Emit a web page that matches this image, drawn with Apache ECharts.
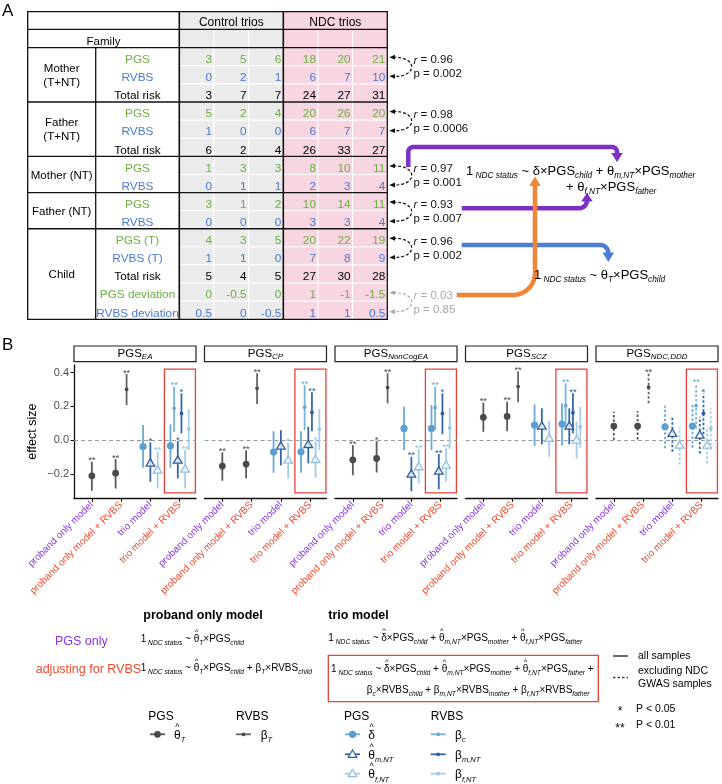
<!DOCTYPE html>
<html><head><meta charset="utf-8">
<script src="https://cdn.jsdelivr.net/npm/echarts@6/dist/echarts.min.js"></script>
<style>html,body{margin:0;padding:0;background:#fff}#c{width:722px;height:784px}</style>
</head><body><div id="c"></div>
<script>
// ================= DATA: Panel A table =================
const trioNames = ['No. 1','No. 2','No. 3','No. 4','No. 5','No. 6'];
const mother_PGS   = [3,5,6,18,20,21];
const mother_RVBS  = [0,2,1,6,7,10];
const mother_Total = [3,7,7,24,27,31];
const father_PGS   = [5,2,4,20,26,20];
const father_RVBS  = [1,0,0,6,7,7];
const father_Total = [6,2,4,26,33,27];
const motherNT_PGS  = [1,3,3,8,10,11];
const motherNT_RVBS = [0,1,1,2,3,4];
const fatherNT_PGS  = [3,1,2,10,14,11];
const fatherNT_RVBS = [0,0,0,3,3,4];
const child_PGS     = [4,3,5,20,22,19];
const child_RVBS    = [1,1,0,7,8,9];
const child_Total   = [5,4,5,27,30,28];
const child_PGSdev  = [0,-0.5,0,1,-1,-1.5];
const child_RVBSdev = [0.5,0,-0.5,1,1,0.5];
const rowLabels = ['PGS','RVBS','Total risk','PGS','RVBS','Total risk','PGS','RVBS','PGS','RVBS','PGS (T)','RVBS (T)','Total risk','PGS deviation','RVBS deviation'];
const rowKinds  = ['pgs','rvbs','tot','pgs','rvbs','tot','pgs','rvbs','pgs','rvbs','pgs','rvbs','tot','pgs','rvbs'];
const blockNames = ['Mother\n(T+NT)','Father\n(T+NT)','Mother (NT)','Father (NT)','Child'];
const blockSpans = [[0,2],[3,5],[6,7],[8,9],[10,14]];
const corrR = ['0.96','0.98','0.97','0.93','0.96','0.03'];
const corrP = ['0.002','0.0006','0.001','0.007','0.002','0.85'];
const corrRows = [[0,1],[3,4],[6,7],[8,9],[10,11],[13,14]];

// ================= DATA: Panel B =================
const modelCats = ['proband only model','proband only model + RVBS','trio model','trio model + RVBS'];
const facetNames = ['EA','CP','NonCogEA','SCZ','NDC,DDD'];
const catTerms = [['θT'],['θT','βT'],['δ','θm','θf'],['δ','βc','θm','βm','θf','βf']];
// [category, term, estimate, lower, upper, significance]
const est_EA = [
 [0,'θT',-0.212,-0.301,-0.129,'**'],[1,'θT',-0.196,-0.287,-0.113,'**'],[1,'βT',0.301,0.208,0.392,'**'],
 [2,'δ',-0.038,-0.164,0.089,''],[2,'θm',-0.137,-0.247,-0.014,'*'],[2,'θf',-0.178,-0.287,-0.069,'**'],
 [3,'δ',-0.034,-0.164,0.093,''],[3,'βc',0.188,0.049,0.317,'**'],[3,'θm',-0.119,-0.227,-0.006,'*'],
 [3,'βm',0.158,0.040,0.277,'*'],[3,'θf',-0.172,-0.287,-0.059,'**'],[3,'βf',0.065,-0.059,0.184,'']];
const est_CP = [
 [0,'θT',-0.154,-0.241,-0.073,'**'],[1,'θT',-0.142,-0.227,-0.061,'**'],[1,'βT',0.307,0.214,0.396,'**'],
 [2,'δ',-0.071,-0.194,0.053,''],[2,'θm',-0.036,-0.150,0.059,''],[2,'θf',-0.119,-0.227,-0.015,'*'],
 [3,'δ',-0.069,-0.194,0.053,''],[3,'βc',0.194,0.059,0.326,'**'],[3,'θm',-0.026,-0.138,0.079,''],
 [3,'βm',0.164,0.053,0.283,'**'],[3,'θf',-0.115,-0.224,-0.005,'*'],[3,'βf',0.065,-0.059,0.184,'']];
const est_NonCogEA = [
 [0,'θT',-0.117,-0.208,-0.030,'**'],[1,'θT',-0.109,-0.192,-0.006,'*'],[1,'βT',0.311,0.218,0.396,'**'],
 [2,'δ',0.069,-0.059,0.198,''],[2,'θm',-0.202,-0.303,-0.099,'**'],[2,'θf',-0.158,-0.257,-0.053,'**'],
 [3,'δ',0.069,-0.059,0.208,''],[3,'βc',0.192,0.059,0.317,'**'],[3,'θm',-0.184,-0.291,-0.083,'**'],
 [3,'βm',0.158,0.034,0.277,'*'],[3,'θf',-0.148,-0.247,-0.049,'**'],[3,'βf',0.073,-0.053,0.192,'']];
const est_SCZ = [
 [0,'θT',0.135,0.049,0.222,'**'],[1,'θT',0.140,0.053,0.227,'**'],[1,'βT',0.317,0.224,0.406,'**'],
 [2,'δ',0.089,-0.034,0.212,''],[2,'θm',0.083,-0.026,0.188,''],[2,'θf',0.010,-0.099,0.113,''],
 [3,'δ',0.095,-0.030,0.218,''],[3,'βc',0.204,0.065,0.336,'**'],[3,'θm',0.083,-0.026,0.188,''],
 [3,'βm',0.162,0.040,0.277,'**'],[3,'θf',0.000,-0.109,0.109,''],[3,'βf',0.079,-0.045,0.198,'']];
const est_NDC = [
 [0,'θT',0.083,0.000,0.168,''],[1,'θT',0.083,0.004,0.172,''],[1,'βT',0.313,0.218,0.396,'**'],
 [2,'δ',0.079,-0.049,0.204,''],[2,'θm',0.040,-0.069,0.138,''],[2,'θf',-0.030,-0.144,0.079,''],
 [3,'δ',0.083,-0.045,0.208,''],[3,'βc',0.204,0.069,0.336,'**'],[3,'θm',0.030,-0.079,0.138,''],
 [3,'βm',0.158,0.034,0.277,'*'],[3,'θf',-0.030,-0.138,0.079,''],[3,'βf',0.069,-0.059,0.188,'']];
const facetData = [est_EA, est_CP, est_NonCogEA, est_SCZ, est_NDC];
const facetDashed = [false,false,false,false,true];
const yTicks = [-0.2, 0, 0.2, 0.4];

// ================= STYLE / LAYOUT =================
const FONT = '"Liberation Sans", Arial, Helvetica, "DejaVu Sans", sans-serif';
const GREEN = '#6db043', BLUE = '#4a79d0', GRAYC = '#eaebea', PINK = '#f7d5e1';
const PURPLE = '#8a35e6', RED = '#ee4a2f';
const TERMS = ['θT','βT','δ','θm','θf','βc','βm','βf'];
const TS = {
 'θT':{c:'#4a4a4a', l:'#595959', sym:'circle', r:3.4},
 'βT':{c:'#4a4a4a', l:'#666666', sym:'dot', r:1.9},
 'δ': {c:'#5b9fd3', l:'#6aa9d8', sym:'circle', r:3.6},
 'θm':{c:'#2d5c9c', l:'#3766a8', sym:'tri', r:4.3},
 'θf':{c:'#8fc0e2', l:'#a4cce8', sym:'tri', r:4.3},
 'βc':{c:'#66a8d8', l:'#78b3de', sym:'dot', r:1.9},
 'βm':{c:'#2d5c9c', l:'#3766a8', sym:'dot', r:1.9},
 'βf':{c:'#98c8e7', l:'#a8d0ea', sym:'dot', r:1.9}
};
const TL=179.3, TT=47.7, TW=208, TH=271.6, TR=TL+TW, TB=TT+TH, RH=TH/15, CW=TW/6;
const T0X=27.7, T0Y=11.7, T1X=95.7, HMID=29.3;
const FAC_LEFT=[74,204.5,335,465.5,596], FW=122, FT=365, FH=133.3;

// ================= GRAPHIC helpers =================
const G = [];
function rect(x,y,w,h,style,z){G.push({type:'rect',z:z||100,shape:{x,y,width:w,height:h},style});}
function line(x1,y1,x2,y2,stroke,lw,dash,z){G.push({type:'line',z:z||100,shape:{x1,y1,x2,y2},style:{stroke,lineWidth:lw||1,lineDash:dash||null}});}
function txt(x,y,text,size,opt){opt=opt||{};G.push({type:'text',z:opt.z||101,x,y,style:Object.assign({text,fill:opt.fill||'#000',fontSize:size,fontFamily:FONT,fontWeight:opt.weight||'normal',fontStyle:opt.italic?'italic':'normal',align:opt.align||'left',verticalAlign:opt.va||'middle'},opt.style||{})});}
function rich(x,y,tokens,styles,opt){opt=opt||{};G.push({type:'text',z:101,x,y,style:{text:tokens.map(t=>'{'+t[0]+'|'+t[1]+'}').join(''),align:opt.align||'left',verticalAlign:'middle',rich:styles}});}
function poly(points,stroke,lw,z){G.push({type:'polyline',z:z||90,shape:{points},style:{stroke,lineWidth:lw,fill:null,lineJoin:'round'}});}
function tri(points,fill,z){G.push({type:'polygon',z:z||90,shape:{points},style:{fill}});}
function arcPts(cx,cy,r,a0,a1,n){const p=[];n=n||10;for(let i=0;i<=n;i++){const a=a0+(a1-a0)*i/n;p.push([cx+r*Math.cos(a),cy+r*Math.sin(a)]);}return p;}
function mkRich(mainSize, subSize, mainLH, subLH, color){
  return {
    m:{fontSize:mainSize,fontFamily:FONT,fill:color||'#000',lineHeight:mainLH,verticalAlign:'middle'},
    s:{fontSize:subSize,fontFamily:FONT,fontStyle:'italic',fill:color||'#000',lineHeight:subLH,verticalAlign:'bottom'}
  };
}
// manual formula layout (tokens: m = main, s = subscript, h = hatted main char)
const mctx=document.createElement('canvas').getContext('2d');
function tw(t,size,italic){mctx.font=(italic?'italic ':'')+size+'px '+FONT;return mctx.measureText(t).width;}
function formula(x,y,tokens,ms,ss,subDy,color){
  let cx=x; color=color||'#000';
  tokens.forEach(t=>{
    const k=t[0], s=t[1];
    if(k==='s'){txt(cx,y+subDy,s,ss,{italic:true,fill:color});cx+=tw(s,ss,true);}
    else if(k==='h'){txt(cx,y,s,ms,{fill:color});const w=tw(s,ms);txt(cx+w/2,y-ms*0.66,'^',ms*0.75,{align:'center',fill:color});cx+=w;}
    else{txt(cx,y,s,ms,{fill:color});cx+=tw(s,ms);}
  });
  return cx;
}

// ---------- Panel labels ----------
txt(2,11,'A',17);
txt(2,345,'B',17);

// ---------- Table header ----------
rect(TL,T0Y,3*CW,TT-T0Y,{fill:GRAYC,stroke:null},20);
rect(TL+3*CW,T0Y,3*CW,TT-T0Y,{fill:PINK,stroke:null},20);
[1,2,4,5].forEach(k=>line(TL+k*CW,HMID,TL+k*CW,TT,'#fff',1,null,21));
txt(TL+1.5*CW,T0Y+(HMID-T0Y)/2+2.6,'Control trios',12,{align:'center'});
txt(TL+4.5*CW,T0Y+(HMID-T0Y)/2+2.6,'NDC trios',12,{align:'center'});
txt((T0X+TL)/2,(HMID+TT)/2+3,'Family',11.5,{align:'center'});
// frame
G.push({type:'rect',z:110,shape:{x:T0X,y:T0Y,width:TR-T0X,height:TB-T0Y},style:{fill:null,stroke:'#111',lineWidth:1.3}});
line(T0X,HMID,TR,HMID,'#111',1.3,null,110);
line(T0X,TT,TR,TT,'#111',1.3,null,110);
[3,6,8,10].forEach(k=>line(T0X,TT+k*RH,TR,TT+k*RH,'#111',1.3,null,110));
line(T1X,TT,T1X,TB,'#111',1.3,null,110);
line(TL,T0Y,TL,TB,'#111',1.6,null,110);
line(TL+3*CW,T0Y,TL+3*CW,TB,'#111',1.6,null,110);
// block names
blockNames.forEach((n,i)=>{
  const y=TT+((blockSpans[i][0]+blockSpans[i][1]+1)/2)*RH+1;
  txt((T0X+T1X)/2,y,n,11.5,{align:'center',style:{lineHeight:14}});
});
// correlation annotations
corrRows.forEach((pr,i)=>{
  const y1=TT+(pr[0]+0.5)*RH+0.5, y2=TT+(pr[1]+0.5)*RH+1.5;
  const col = i===5 ? '#a9a9a9' : '#111';
  G.push({type:'bezierCurve',z:100,shape:{x1:393,y1:y1,x2:393,y2:y2,cpx1:418,cpy1:y1-1,cpx2:418,cpy2:y2+1},style:{stroke:col,lineWidth:1.2,lineDash:[3,2],fill:null}});
  tri([[389.3,y1],[395,y1-2.4],[395,y1+2.4]],col,100);
  tri([[389.3,y2],[395,y2-2.4],[395,y2+2.4]],col,100);
  const mid=(y1+y2)/2;
  rich(413.5,mid-6.5,[['i','r'],['n',' = '+corrR[i]]],{i:{fontSize:11.5,fontFamily:FONT,fontStyle:'italic',fill:col},n:{fontSize:11.5,fontFamily:FONT,fill:col}});
  rich(413.5,mid+7.5,[['n','p = '+corrP[i]]],{n:{fontSize:11.5,fontFamily:FONT,fill:col}});
});

// ---------- Thick arrows ----------
const PURA='#7c30c4', BLUA='#4b7fd6', ORA='#ef8537', AW=4.5;
poly([[408.3,167]].concat(arcPts(413.3,152,5,Math.PI,1.5*Math.PI)).concat(arcPts(612,152,5,-0.5*Math.PI,0)).concat([[617,154]]),PURA,AW,90);
tri([[611.2,153],[622.8,153],[617,162]],PURA,90);
poly([[461.7,208.3]].concat(arcPts(579,200.3,8,0.5*Math.PI,0)),PURA,AW,90);
tri([[581.2,201.5],[592.8,201.5],[587,193]],PURA,90);
poly([[461.7,245]].concat(arcPts(600.3,253,8,-0.5*Math.PI,0)),BLUA,AW,90);
tri([[602.5,252.5],[614.1,252.5],[608.3,262]],BLUA,90);
poly([[456.7,295]].concat(arcPts(513,273,22,0.5*Math.PI,0,16)).concat([[535,185]]),ORA,AW,92);
tri([[529.2,186],[540.8,186],[535,176.5]],ORA,92);

// ---------- Formulas panel A ----------
formula(466,171,[['m','1'],['s',' NDC status'],['m',' ~ δ×PGS'],['s','child'],['m',' + θ'],['s','m,NT'],['m','×PGS'],['s','mother']],13,8.3,5);
formula(566,187,[['m','+ θ'],['s','f,NT'],['m','×PGS'],['s','father']],13,8.3,5);
formula(534,275,[['m','1'],['s',' NDC status'],['m',' ~ θ'],['s','T'],['m','×PGS'],['s','child']],13,8.3,5);

// ---------- Facet strips ----------
facetNames.forEach((f,i)=>{
  G.push({type:'rect',z:100,shape:{x:FAC_LEFT[i],y:346,width:FW,height:15.7},style:{fill:'#fff',stroke:'#222',lineWidth:1.2}});
  rich(FAC_LEFT[i]+FW/2,353.5,[['m','PGS'],['s',f]],mkRich(11.5,8,14,5),{align:'center'});
});

// ---------- Bottom legend ----------
const MS=10, SS=6.7, SD=4.3;
txt(143.3,616,'proband only model',12.5,{weight:'bold'});
txt(328.3,616,'trio model',12.5,{weight:'bold'});
txt(55,642,'PGS only',12.5,{fill:PURPLE});
txt(35.7,669.3,'adjusting for RVBS',12.5,{fill:RED});
formula(140.7,639,[['m','1'],['s',' NDC status'],['m',' ~ '],['h','θ'],['s','T'],['m','×PGS'],['s','child']],MS,SS,SD);
formula(140.7,668,[['m','1'],['s',' NDC status'],['m',' ~ '],['h','θ'],['s','T'],['m','×PGS'],['s','child'],['m',' + β'],['s','T'],['m','×RVBS'],['s','child']],MS,SS,SD);
const trioTok=[['m','1'],['s',' NDC status'],['m',' ~ '],['h','δ'],['m','×PGS'],['s','child'],['m',' + '],['h','θ'],['s','m,NT'],['m','×PGS'],['s','mother'],['m',' + '],['h','θ'],['s','f,NT'],['m','×PGS'],['s','father']];
formula(328.3,638,trioTok,MS,SS,SD);
formula(331,669,trioTok.concat([['m',' +']]),MS,SS,SD);
formula(366.7,690,[['m','β'],['s','c'],['m','×RVBS'],['s','child'],['m',' + β'],['s','m,NT'],['m','×RVBS'],['s','mother'],['m',' + β'],['s','f,NT'],['m','×RVBS'],['s','father']],MS,SS,SD);
G.push({type:'rect',z:100,shape:{x:328.3,y:655.3,width:270,height:46.4},style:{fill:null,stroke:'#e8413a',lineWidth:1.3}});
// legend headers
txt(148.3,716.7,'PGS',12); txt(236,716.7,'RVBS',12); txt(344,716.7,'PGS',12); txt(430.7,716.7,'RVBS',12);
function glyph(x,y,term,dashed){
  const s=TS[term];
  line(x,y,x+15,y,s.l,1.8,dashed?[2.5,2]:null,100);
  const cx=x+7.5;
  if(s.sym==='circle'||s.sym==='dot') G.push({type:'circle',z:101,shape:{cx,cy:y,r:s.r},style:{fill:s.c}});
  else G.push({type:'polygon',z:102,shape:{points:[[cx,y-s.r],[cx-s.r,y+s.r*0.7],[cx+s.r,y+s.r*0.7]]},style:{fill:'#fff',stroke:s.c,lineWidth:1.2}});
}
const legendItems = [
  [150,734.3,'θT','θ','T',174,true],[236,734.3,'βT','β','T',260.7,false],
  [345,734.3,'δ','δ','',368.3,true],[345,754.3,'θm','θ','m,NT',368.3,true],[345,773.7,'θf','θ','f,NT',368.3,true],
  [430.7,734.3,'βc','β','c',455,false],[430.7,754.3,'βm','β','m,NT',455,false],[430.7,773.7,'βf','β','f,NT',455,false]
];
legendItems.forEach(it=>{
  glyph(it[0],it[1],it[2]);
  const toks=[[it[6]?'h':'m',it[3]]]; if(it[4]) toks.push(['s',it[4]]);
  formula(it[5],it[1]+1,toks,12,7.5,5);
});
line(613,656,628,656,'#444',1.6,null,100); txt(638,656,'all samples',10.5);
line(613,677.5,628,677.5,'#444',1.6,[2.5,2],100); txt(638,671.3,'excluding NDC',10.5); txt(638,683.8,'GWAS samples',10.5);
txt(620,712,'*',12,{align:'center'}); txt(636,709,'P < 0.05',10.5);
txt(620,728.5,'**',12,{align:'center'}); txt(636,725.5,'P < 0.01',10.5);

// ================= SERIES builders =================
const tableCells = [];
[mother_PGS,mother_RVBS,mother_Total,father_PGS,father_RVBS,father_Total,motherNT_PGS,motherNT_RVBS,fatherNT_PGS,fatherNT_RVBS,child_PGS,child_RVBS,child_Total,child_PGSdev,child_RVBSdev]
  .forEach((row,r)=>row.forEach((v,c)=>tableCells.push([c,r,v])));
const kindColor = {pgs:GREEN,rvbs:BLUE,tot:'#000'};

function renderCell(params, api){
  const c=api.value(0), r=api.value(1), v=api.value(2);
  const p=api.coord([c,r]), s=api.size([1,1]);
  return {type:'group',children:[
    {type:'rect',shape:{x:p[0]-s[0]/2,y:p[1]-s[1]/2,width:s[0],height:s[1]},style:{fill:c<3?GRAYC:PINK,stroke:'#fff',lineWidth:1}},
    {type:'text',style:{text:String(v),x:p[0]+s[0]/2-2,y:p[1]+3,align:'right',verticalAlign:'middle',fill:kindColor[rowKinds[r]],fontSize:11.8,fontFamily:FONT}}
  ]};
}
function dodgeX(cat, term){
  const list=catTerms[cat], n=list.length, i=list.indexOf(term);
  return cat+1+(i-(n-1)/2)*(0.75/n);
}
function makeRender(dashed){
  return function(params, api){
    const x=api.value(0), y=api.value(1), lo=api.value(2), hi=api.value(3);
    const term=TERMS[api.value(4)], st=TS[term], ns=api.value(5);
    const p=api.coord([x,y]), pl=api.coord([x,lo]), ph=api.coord([x,hi]);
    const ch=[{type:'line',shape:{x1:p[0],y1:pl[1],x2:p[0],y2:ph[1]},style:{stroke:st.l,lineWidth:1.8,lineDash:dashed?[2.5,2]:null}}];
    if(st.sym==='tri'){
      const r=st.r, pts=[[p[0],p[1]-r],[p[0]-r,p[1]+r*0.7],[p[0]+r,p[1]+r*0.7]];
      ch.push({type:'polygon',shape:{points:pts},style:{fill:'rgba(255,255,255,0.75)',stroke:st.c,lineWidth:1.3}});
    } else {
      ch.push({type:'circle',shape:{cx:p[0],cy:p[1],r:st.r},style:{fill:st.c}});
    }
    if(ns>0) ch.push({type:'text',style:{text:'*'.repeat(ns),x:p[0],y:ph[1]-1,align:'center',verticalAlign:'middle',fill:st.c,fontSize:9.5,fontFamily:FONT}});
    return {type:'group',children:ch};
  };
}

const grids=[{left:TL,top:TT,width:TW,height:TH}];
const xAxes=[{type:'category',gridIndex:0,data:trioNames,position:'top',axisLine:{show:false},axisTick:{show:false},
  axisLabel:{fontSize:11.5,fontFamily:FONT,color:'#000',margin:6,verticalAlign:'middle',interval:0},splitLine:{show:false}}];
const yAxes=[{type:'category',gridIndex:0,data:rowLabels.map((_,i)=>'r'+i),inverse:true,axisLine:{show:false},axisTick:{show:false},
  axisLabel:{interval:0,align:'center',margin:41.8,formatter:(v,i)=>'{'+rowKinds[i]+'|'+rowLabels[i]+'}',
   rich:{pgs:{color:GREEN,fontSize:11.8,fontFamily:FONT,padding:[6,0,0,0]},rvbs:{color:BLUE,fontSize:11.8,fontFamily:FONT,padding:[6,0,0,0]},tot:{color:'#000',fontSize:11.8,fontFamily:FONT,padding:[6,0,0,0]}}},
  splitLine:{show:false}}];
const series=[{type:'custom',xAxisIndex:0,yAxisIndex:0,data:tableCells,renderItem:renderCell,silent:true,z:10}];

facetData.forEach((rows,i)=>{
  const gi=i+1;
  grids.push({left:FAC_LEFT[i],top:FT,width:FW,height:FH});
  xAxes.push({type:'value',gridIndex:gi,min:0.39,max:4.56,
    axisLine:{show:true,onZero:false,lineStyle:{color:'#111',width:1.3}},
    axisTick:{show:true,customValues:[1,2,3,4],length:3.5,lineStyle:{color:'#111',width:1.1}},
    axisLabel:{show:true,customValues:[1,2,3,4],rotate:45,margin:5,
      formatter:v=>{const k=Math.round(v)-1;return '{'+(k%2===0?'p':'r')+'|'+modelCats[k]+'}';},
      rich:{p:{color:PURPLE,fontSize:10,fontFamily:FONT},r:{color:RED,fontSize:10,fontFamily:FONT}}},
    splitLine:{show:false}});
  const ya={type:'value',gridIndex:gi,min:-0.345,max:0.445,splitLine:{show:false}};
  if(i===0){
    Object.assign(ya,{axisLine:{show:true,onZero:false,lineStyle:{color:'#111',width:1.3}},
      axisTick:{show:true,customValues:yTicks,length:3.5,lineStyle:{color:'#111'}},
      axisLabel:{show:true,customValues:yTicks,margin:5,fontSize:11,fontFamily:FONT,color:'#4d4d4d',
        formatter:v=>(v<0?'\u2212':'')+Math.abs(v).toFixed(1)},
      name:'effect size',nameLocation:'middle',nameGap:35,nameTextStyle:{fontSize:12.5,fontFamily:FONT,color:'#000'}});
  } else {
    Object.assign(ya,{axisLine:{show:false},axisTick:{show:false},axisLabel:{show:false}});
  }
  yAxes.push(ya);
  const data=rows.map(r=>[dodgeX(r[0],r[1]),r[2],r[3],r[4],TERMS.indexOf(r[1]),r[5].length]);
  series.push({type:'custom',xAxisIndex:gi,yAxisIndex:gi,data,renderItem:makeRender(facetDashed[i]),silent:true,z:5,
    markLine:{silent:true,symbol:'none',data:[{yAxis:0}],lineStyle:{color:'#9a9a9a',type:[4,3],width:1.1},label:{show:false},z:1},
    markArea:{silent:true,data:[[{xAxis:3.48,yAxis:-0.313},{xAxis:4.54,yAxis:0.421}]],itemStyle:{color:'rgba(0,0,0,0)',borderColor:'#e8413a',borderWidth:1.3}}
  });
});

const chart=echarts.init(document.getElementById('c'),null,{renderer:'canvas',width:722,height:784});
chart.setOption({animation:false,backgroundColor:'#fff',textStyle:{fontFamily:FONT},
  grid:grids,xAxis:xAxes,yAxis:yAxes,series,graphic:{elements:G}});
</script></body></html>
